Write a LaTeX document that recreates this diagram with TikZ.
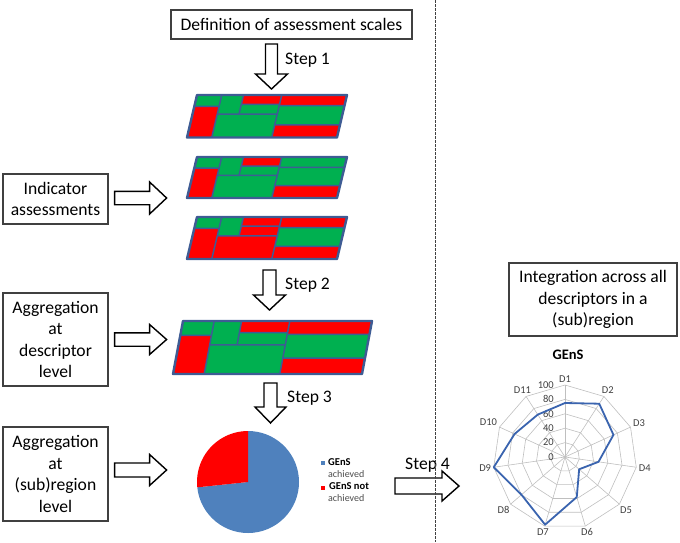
\documentclass[tikz,border=0pt]{standalone}
\usepackage{fontspec}
\setmainfont{Carlito}

\definecolor{tmgreen}{RGB}{0,176,80}
\definecolor{tmred}{RGB}{255,0,0}
\definecolor{tmedge}{RGB}{62,92,148}
\definecolor{pieblue}{RGB}{79,129,189}
\definecolor{serieblue}{RGB}{58,100,175}

% one cell of a slanted treemap, in unit coordinates
\newcommand{\tmcell}[5]{\fill[#1] (#2,#3) -- (#4,#3) -- (#4,#5) -- (#2,#5) -- cycle;}

% treemap: bottom-left x, top y, width, height, slant, colours of the three cells that change
\newcommand{\treemap}[8]{%
  \begin{scope}[shift={(#1+#5,#2)}, x={(#3pt,0pt)}, y={(-#5pt,-#4pt)}]
    \tmcell{tmgreen}{0}{0}{0.165}{0.27}
    \tmcell{tmred}{0}{0.27}{0.165}{1}
    \tmcell{tmgreen}{0.165}{0}{0.31}{0.45}
    \tmcell{tmred}{0.31}{0}{0.565}{0.22}
    \tmcell{#7}{0.31}{0.22}{0.565}{0.45}
    \tmcell{#8}{0.165}{0.45}{0.565}{1}
    \tmcell{#6}{0.565}{0}{1}{0.25}
    \tmcell{tmgreen}{0.565}{0.25}{1}{0.7}
    \tmcell{tmred}{0.565}{0.7}{1}{1}
    \draw[tm inner] (0,0.27) -- (0.165,0.27) (0.165,0) -- (0.165,1)
      (0.31,0) -- (0.31,0.45) (0.165,0.45) -- (0.565,0.45)
      (0.31,0.22) -- (0.565,0.22) (0.565,0) -- (0.565,1)
      (0.565,0.25) -- (1,0.25) (0.565,0.7) -- (1,0.7);
    \draw[tm outer] (0,0) -- (1,0) -- (1,1) -- (0,1) -- cycle;
  \end{scope}}

% hollow block arrows: start, shaft length, shaft half width, head length, head half width
\newcommand{\downblock}[5]{\draw[block arrow] (#1) ++(-#3,0) -- ++(0,#2) -- ++(#3-#5,0) -- ++(#5,#4) -- ++(#5,-#4) -- ++(#3-#5,0) -- ++(0,-#2) -- cycle;}
\newcommand{\rightblock}[5]{\draw[block arrow] (#1) ++(0,#3) -- ++(#2,0) -- ++(0,#5-#3) -- ++(#4,-#5) -- ++(-#4,-#5) -- ++(0,#5-#3) -- ++(-#2,0) -- cycle;}

\begin{document}
\begin{tikzpicture}[
    x=1pt, y=-1pt,
    box/.style={draw=black!75, line width=1.2pt, inner sep=0pt, align=center, font=\fontsize{17.6}{21.6}\selectfont},
    step label/.style={anchor=west, inner sep=0pt, font=\fontsize{17.6}{21.6}\selectfont},
    block arrow/.style={draw=black, line width=1.4pt, fill=white, line join=miter},
    tm inner/.style={tmedge, line width=1.5pt},
    tm outer/.style={tmedge, line width=2.4pt, line join=round},
    divider/.style={black!75, line width=0.9pt, dash pattern=on 2.5pt off 1.5pt},
    ring/.style={black!25, line width=0.6pt},
    series/.style={serieblue, line width=1.8pt, line join=round},
    radar label/.style={inner sep=1.5pt, text=black!75, font=\fontsize{10.5}{12}\selectfont},
    tick label/.style={anchor=east, inner sep=0pt, text=black!75, font=\fontsize{10.5}{12}\selectfont},
    legend bold/.style={anchor=west, inner sep=0pt, font=\bfseries\fontsize{10.5}{12}\selectfont},
    legend text/.style={anchor=west, inner sep=0pt, text=black!70, font=\fontsize{10}{11}\selectfont}
]
\useasboundingbox (0,0) rectangle (680,542);

% Boxes
\node[box, minimum width=241pt, minimum height=29pt] (scales) at (291.5,24.5) {Definition of assessment scales};
\node[box, minimum width=105pt, minimum height=50pt] (indicator) at (55.5,199) {Indicator\\assessments};
\node[box, minimum width=105pt, minimum height=93pt] (descagg) at (55.5,339.5) {Aggregation\\at\\descriptor\\level};
\node[box, minimum width=105pt, minimum height=94pt] (regagg) at (55.5,474) {Aggregation\\at\\(sub)region\\level};
\node[box, minimum width=168pt, minimum height=73pt] (integration) at (593,299.5) {Integration across all\\descriptors in a\\(sub)region};

% Treemaps of the indicators and of the descriptor
\treemap{187}{95}{150}{42.5}{10}{tmred}{tmgreen}{tmgreen}
\treemap{187}{157}{150}{41}{10}{tmgreen}{tmgreen}{tmgreen}
\treemap{187}{217}{150}{42}{10}{tmred}{tmred}{tmred}
\treemap{173}{321}{189}{53}{10}{tmred}{tmgreen}{tmgreen}

% Step arrows
\coordinate (s1) at (271.5,44);
\coordinate (s2) at (269.5,270);
\coordinate (s3) at (270.5,383);
\coordinate (s4) at (395,486);
\downblock{s1}{30}{6}{15}{16}
\downblock{s2}{25}{6.5}{15}{16}
\downblock{s3}{24}{6.5}{16}{15.5}
\rightblock{[xshift=6pt,yshift=1pt]indicator.east}{35}{6.7}{17}{16}
\rightblock{[xshift=6pt]descagg.east}{35}{6.7}{17}{15}
\rightblock{[xshift=6pt,yshift=4pt]regagg.east}{35}{7}{17}{15.5}
\rightblock{s4}{47}{8}{17}{15}

\node[step label] (step1) at (285,60) {Step 1};
\node[step label] (step2) at (285,285) {Step 2};
\node[step label] (step3) at (287,398) {Step 3};
\node[step label] (step4) at (405,465) {Step 4};

% Pie chart
\begin{scope}[shift={(248,482)}, y=1pt]
  \fill[pieblue] (0,0) -- (186:51) arc[start angle=186, end angle=450, radius=51] -- cycle;
  \fill[tmred] (0,0) -- (90:51) arc[start angle=90, end angle=186, radius=51] -- cycle;
\end{scope}
\fill[pieblue] (321,461) rectangle (325,465);
\fill[tmred] (321,486) rectangle (325,490);
\node[legend bold] (lg1) at (328,462) {GEnS};
\node[legend text] (lg1b) at (328,474.5) {achieved};
\node[legend bold] (lg2) at (329,486.5) {GEnS not};
\node[legend text] (lg2b) at (328,498.5) {achieved};

% Radar chart
\node[font=\bfseries\fontsize{14.5}{16}\selectfont] (gens) at (568,355) {GEnS};
\begin{scope}[shift={(565,457)}, y=1pt]
  \foreach \k in {1,...,5}
    \draw[ring] (90:{\k*14.4}) \foreach \i in {1,...,10} { -- ({90-\i*360/11}:{\k*14.4}) } -- cycle;
  \foreach \i [evaluate=\i as \a using 90-(\i-1)*360/11,
               evaluate={\i as \b using mod(630-(\i-1)*360/11,360)}] in {1,...,11} {
    \draw[ring] (0,0) -- (\a:72);
    \node[radar label, anchor=\b] (d\i) at (\a:73) {D\i};
  }
  \foreach \k [evaluate=\k as \val using int(\k*20)] in {0,...,5}
    \node[tick label] (t\k) at (-11,{\k*14.4}) {\val};
  \foreach \v [count=\i from 0] in {75,88,74,47,26,58,98,80,100,77,70}
    \coordinate (p\i) at ({90-\i*360/11}:{0.72*\v});
  \draw[series] (p0) -- (p1) -- (p2) -- (p3) -- (p4) -- (p5) -- (p6) -- (p7) -- (p8) -- (p9) -- (p10) -- cycle;
\end{scope}

% Divider
\draw[divider] (435,0) -- (435,542);
\end{tikzpicture}
\end{document}
